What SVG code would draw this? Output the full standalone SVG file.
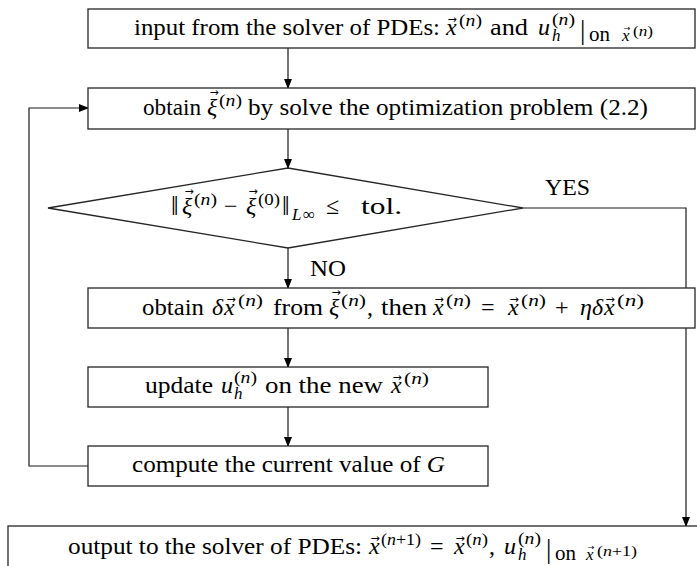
<svg xmlns="http://www.w3.org/2000/svg" width="697" height="566" viewBox="0 0 697 566">
<style>
.box{fill:#fff;stroke:#262626;stroke-width:1.3}
.ln{fill:none;stroke:#1a1a1a;stroke-width:1.2}
.t{font-family:"Liberation Serif","DejaVu Serif",serif;font-size:24px;fill:#000}
.i{font-style:italic}
.s{font-size:17px}
.ss{font-size:15px}
.o{font-size:20px}
.bar{font-size:27px}
.nn{font-size:27px}
.v{font-family:"DejaVu Sans",sans-serif;font-size:11px;text-anchor:middle;fill:#000}
.vs{font-family:"DejaVu Sans",sans-serif;font-size:8px;text-anchor:middle;fill:#000}
</style>
<defs>
<marker id="ah" markerWidth="10" markerHeight="8" refX="9" refY="4" orient="auto" markerUnits="userSpaceOnUse">
<path d="M0,0 L10,4 L0,8 Z" fill="#000"/>
</marker>
</defs>
<rect width="697" height="566" fill="#fff"/>
<g id="connectors">
<line class="ln" x1="288" y1="48" x2="288" y2="88" marker-end="url(#ah)"/>
<line class="ln" x1="288" y1="129" x2="288" y2="168" marker-end="url(#ah)"/>
<line class="ln" x1="288" y1="248" x2="288" y2="288" marker-end="url(#ah)"/>
<line class="ln" x1="288" y1="328" x2="288" y2="367" marker-end="url(#ah)"/>
<line class="ln" x1="288" y1="407" x2="288" y2="446" marker-end="url(#ah)"/>
<polyline class="ln" points="88,466 29,466 29,108 88,108" marker-end="url(#ah)"/>
<polyline class="ln" points="523,208 686,208 686,526" marker-end="url(#ah)"/>
<text class="t" x="545" y="195" textLength="45" lengthAdjust="spacingAndGlyphs">YES</text>
<text class="t" x="310" y="276" textLength="36" lengthAdjust="spacingAndGlyphs">NO</text>
</g>
<g id="input">
<rect class="box" x="88" y="9" width="607" height="39"/>
<text class="t" x="134" y="35" textLength="306" lengthAdjust="spacingAndGlyphs">input from the solver of PDEs:</text>
<text class="t i" x="446" y="35">x</text>
<text class="v" x="452" y="23">→</text>
<text class="t s" x="459" y="26" textLength="23" lengthAdjust="spacingAndGlyphs">(<tspan class="i">n</tspan>)</text>
<text class="t" x="490" y="35" textLength="38" lengthAdjust="spacingAndGlyphs">and</text>
<text class="t i" x="538" y="35">u</text>
<text class="t s i" x="552" y="41">h</text>
<text class="t s" x="552" y="25" textLength="23" lengthAdjust="spacingAndGlyphs">(<tspan class="i">n</tspan>)</text>
<text class="t bar" x="580" y="39">|</text>
<text class="t o" x="589" y="41" textLength="21" lengthAdjust="spacingAndGlyphs">on</text>
<text class="t s i" x="622" y="41">x</text>
<text class="vs" x="627" y="31">→</text>
<text class="t ss" x="633" y="36" textLength="20" lengthAdjust="spacingAndGlyphs">(<tspan class="i">n</tspan>)</text>
</g>
<g id="optimize">
<rect class="box" x="88" y="88" width="607" height="41"/>
<text class="t" x="143" y="115" textLength="58" lengthAdjust="spacingAndGlyphs">obtain</text>
<text class="t i" x="207" y="115">ξ</text>
<text class="v" x="214" y="96">→</text>
<text class="t s" x="219" y="106" textLength="23" lengthAdjust="spacingAndGlyphs">(<tspan class="i">n</tspan>)</text>
<text class="t" x="248" y="115" textLength="400" lengthAdjust="spacingAndGlyphs">by solve the optimization problem (2.2)</text>
</g>
<g id="check">
<polygon class="box" points="48,208 288,168 523,208 288,248"/>
<text class="t nn" x="171" y="215">‖</text>
<text class="t i" x="182" y="214">ξ</text>
<text class="v" x="189" y="195">→</text>
<text class="t s" x="194" y="205" textLength="23" lengthAdjust="spacingAndGlyphs">(<tspan class="i">n</tspan>)</text>
<text class="t" x="224" y="214">−</text>
<text class="t i" x="246" y="214">ξ</text>
<text class="v" x="253" y="195">→</text>
<text class="t s" x="258" y="205" textLength="22" lengthAdjust="spacingAndGlyphs">(0)</text>
<text class="t nn" x="282" y="215">‖</text>
<text class="t s i" x="292" y="220">L</text>
<text class="t s" x="303" y="220">∞</text>
<text class="t" x="326" y="214">≤</text>
<text class="t" x="361" y="214" textLength="41" lengthAdjust="spacingAndGlyphs">tol.</text>
</g>
<g id="update-x">
<rect class="box" x="88" y="288" width="607" height="40"/>
<text class="t" x="142" y="315" textLength="62" lengthAdjust="spacingAndGlyphs">obtain</text>
<text class="t i" x="212" y="315">δ</text>
<text class="t i" x="224" y="315">x</text>
<text class="v" x="231" y="303">→</text>
<text class="t s" x="238" y="306" textLength="25" lengthAdjust="spacingAndGlyphs">(<tspan class="i">n</tspan>)</text>
<text class="t" x="273" y="315" textLength="50" lengthAdjust="spacingAndGlyphs">from</text>
<text class="t i" x="329" y="315">ξ</text>
<text class="v" x="336" y="296">→</text>
<text class="t s" x="341" y="306" textLength="25" lengthAdjust="spacingAndGlyphs">(<tspan class="i">n</tspan>)</text>
<text class="t" x="367" y="315">,</text>
<text class="t" x="381" y="315" textLength="46" lengthAdjust="spacingAndGlyphs">then</text>
<text class="t i" x="433" y="315">x</text>
<text class="v" x="439" y="303">→</text>
<text class="t s" x="446" y="306" textLength="25" lengthAdjust="spacingAndGlyphs">(<tspan class="i">n</tspan>)</text>
<text class="t" x="481" y="315">=</text>
<text class="t i" x="508" y="315">x</text>
<text class="v" x="514" y="303">→</text>
<text class="t s" x="521" y="306" textLength="25" lengthAdjust="spacingAndGlyphs">(<tspan class="i">n</tspan>)</text>
<text class="t" x="555" y="315">+</text>
<text class="t i" x="580" y="315">η</text>
<text class="t i" x="592" y="315">δ</text>
<text class="t i" x="604" y="315">x</text>
<text class="v" x="610" y="303">→</text>
<text class="t s" x="617" y="306" textLength="27" lengthAdjust="spacingAndGlyphs">(<tspan class="i">n</tspan>)</text>
</g>
<g id="update-u">
<rect class="box" x="88" y="367" width="400" height="40"/>
<text class="t" x="145" y="393" textLength="68" lengthAdjust="spacingAndGlyphs">update</text>
<text class="t i" x="221" y="393">u</text>
<text class="t s i" x="234" y="399">h</text>
<text class="t s" x="234" y="383" textLength="23" lengthAdjust="spacingAndGlyphs">(<tspan class="i">n</tspan>)</text>
<text class="t" x="265" y="393" textLength="118" lengthAdjust="spacingAndGlyphs">on the new</text>
<text class="t i" x="391" y="393">x</text>
<text class="v" x="397" y="381">→</text>
<text class="t s" x="404" y="384" textLength="25" lengthAdjust="spacingAndGlyphs">(<tspan class="i">n</tspan>)</text>
</g>
<g id="compute-g">
<rect class="box" x="88" y="446" width="400" height="40"/>
<text class="t" x="132" y="472" textLength="313" lengthAdjust="spacingAndGlyphs">compute the current value of <tspan class="i">G</tspan></text>
</g>
<g id="output">
<rect class="box" x="8" y="526" width="700" height="60"/>
<text class="t" x="68" y="554" textLength="294" lengthAdjust="spacingAndGlyphs">output to the solver of PDEs:</text>
<text class="t i" x="369" y="554">x</text>
<text class="v" x="375" y="542">→</text>
<text class="t s" x="381" y="545" textLength="40" lengthAdjust="spacingAndGlyphs">(<tspan class="i">n</tspan>+1)</text>
<text class="t" x="430" y="554">=</text>
<text class="t i" x="454" y="554">x</text>
<text class="v" x="460" y="542">→</text>
<text class="t s" x="466" y="545" textLength="22" lengthAdjust="spacingAndGlyphs">(<tspan class="i">n</tspan>)</text>
<text class="t" x="489" y="554">,</text>
<text class="t i" x="504" y="554">u</text>
<text class="t s i" x="518" y="560">h</text>
<text class="t s" x="518" y="544" textLength="23" lengthAdjust="spacingAndGlyphs">(<tspan class="i">n</tspan>)</text>
<text class="t bar" x="546" y="558">|</text>
<text class="t o" x="555" y="560" textLength="21" lengthAdjust="spacingAndGlyphs">on</text>
<text class="t s i" x="586" y="560">x</text>
<text class="vs" x="591" y="550">→</text>
<text class="t ss" x="597" y="556" textLength="40" lengthAdjust="spacingAndGlyphs">(<tspan class="i">n</tspan>+1)</text>
</g>
</svg>
